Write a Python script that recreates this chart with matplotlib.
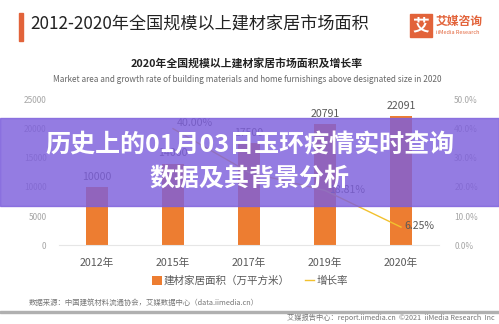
import matplotlib
matplotlib.use("Agg")
import matplotlib.pyplot as plt
from matplotlib.patches import Rectangle

plt.rcParams['font.family'] = ['Noto Sans CJK SC', 'DejaVu Sans']

# === Data ===
years = ["2012年", "2015年", "2017年", "2019年", "2020年"]
area = [10000, 14000, 17500, 20791, 22091]          # 万平方米
growth_years = [1, 2, 3, 4]                          # index into years
growth = [0.40, 0.25, 0.1881, 0.0625]
growth_labels = {0: "40.00%", 2: "18.81%", 3: "6.25%"}
left_ticks = [0, 5000, 10000, 15000, 20000, 25000]
right_ticks = [0.0, 0.1, 0.2, 0.3, 0.4, 0.5]

ORANGE = "#ed7d31"
YELLOW = "#f2c12e"
GRAY = "#a6a6a6"
DARK = "#595959"

W, H = 499, 324
fig = plt.figure(figsize=(W / 100, H / 100), dpi=100)


def fx(px):
    return px / W


def fy(py):
    return 1 - py / H


# header
fig.patches.append(Rectangle((fx(19), fy(41)), fx(4), 28 / H, transform=fig.transFigure,
                             color="#e2633a", zorder=2))
fig.text(fx(30), fy(25), "2012-2020年全国规模以上建材家居市场面积", fontsize=12.3,
         color="#222222", va="center", ha="left")
fig.patches.append(Rectangle((fx(410), fy(37)), fx(22), 23 / H, transform=fig.transFigure,
                             color="#e2633a", zorder=2))
fig.text(fx(421), fy(25.5), "艾", fontsize=12, color="white", ha="center", va="center",
         fontweight="bold")
fig.text(fx(436), fy(21), "艾媒咨询", fontsize=8.5, color="#e2633a", ha="left", va="center",
         fontweight="bold")
fig.text(fx(436), fy(33), "iiMedia Research", fontsize=4, color="#e2633a", ha="left",
         va="center")

# chart titles
fig.text(fx(247), fy(63), "2020年全国规模以上建材家居市场面积及增长率", fontsize=7.8,
         color="#222222", ha="center", va="center", fontweight="bold")
fig.text(fx(247), fy(80),
         "Market area and growth rate of building materials and home furnishings above designated size in 2020",
         fontsize=5.9, color="#666666", ha="center", va="center")

# === Main axes ===
ax = fig.add_axes([fx(59), fy(245.3), fx(380), (245.3 - 99.5) / H])
x = list(range(len(years)))
ax.bar(x, area, width=0.30, color=ORANGE, zorder=2, label="建材家居面积（万平方米）")
for xi, v in zip(x, area):
    ax.text(xi, v + 900, str(v), ha="center", va="bottom", fontsize=7.6, color=DARK)
ax.set_xlim(-0.5, 4.5)
ax.set_ylim(0, 25000)
ax.set_yticks(left_ticks)
ax.set_yticklabels([str(t) for t in left_ticks])
ax.set_xticks(x)
ax.set_xticklabels(years, fontsize=7.7, color=DARK)
ax.tick_params(axis="y", labelsize=6, colors=GRAY, length=0, pad=9)
ax.tick_params(axis="x", length=0, pad=9)
for s in ["top", "right", "left"]:
    ax.spines[s].set_visible(False)
ax.spines["bottom"].set_color("#e6e6e6")

ax2 = ax.twinx()
ax2.plot(growth_years, growth, color=YELLOW, lw=1.0, zorder=3, label="增长率")
for i, lab in growth_labels.items():
    ax2.text(growth_years[i] + 0.05, growth[i] + 0.003, lab, fontsize=7.6, color=DARK,
             ha="left", va="center" if i else "bottom")
ax2.set_ylim(0, 0.5)
ax2.set_yticks(right_ticks)
ax2.set_yticklabels(["%.1f%%" % (t * 100) for t in right_ticks])
ax2.tick_params(axis="y", labelsize=6, colors=GRAY, length=0, pad=11)
for s in ax2.spines.values():
    s.set_visible(False)

# legend
h1, l1 = ax.get_legend_handles_labels()
h2, l2 = ax2.get_legend_handles_labels()
fig.legend(h1 + h2, l1 + l2, loc="center", bbox_to_anchor=(fx(250), fy(281)), ncol=2,
           frameon=False, fontsize=7.6, handlelength=0.9, handleheight=0.9, handletextpad=0.2,
           columnspacing=1.4, labelcolor=DARK)

# source / footer
fig.text(fx(29), fy(303), "数据来源：中国建筑材料流通协会，艾媒数据中心（data.iimedia.cn）",
         fontsize=5.3, color="#777777", ha="left", va="center")
fig.patches.append(Rectangle((0, fy(313)), 1, 2 / H, transform=fig.transFigure,
                             color="#b0b0b0", zorder=2))
fig.text(fx(495), fy(318), "艾媒报告中心：report.iimedia.cn  ©2021  iiMedia Research  Inc",
         fontsize=5.2, color="#777777", ha="right", va="center")

# purple overlay with headline
fig.patches.append(Rectangle((0, fy(206)), 1, 88 / H, transform=fig.transFigure,
                             color="#7d5fdc", alpha=0.82, zorder=10))
fig.text(0.5, fy(146), "历史上的01月03日玉环疫情实时查询", fontsize=18, color="white",
         fontweight="bold", ha="center", va="center", zorder=11)
fig.text(0.5, fy(179), "数据及其背景分析", fontsize=18, color="white",
         fontweight="bold", ha="center", va="center", zorder=11)

fig.savefig("out.png", dpi=100)
